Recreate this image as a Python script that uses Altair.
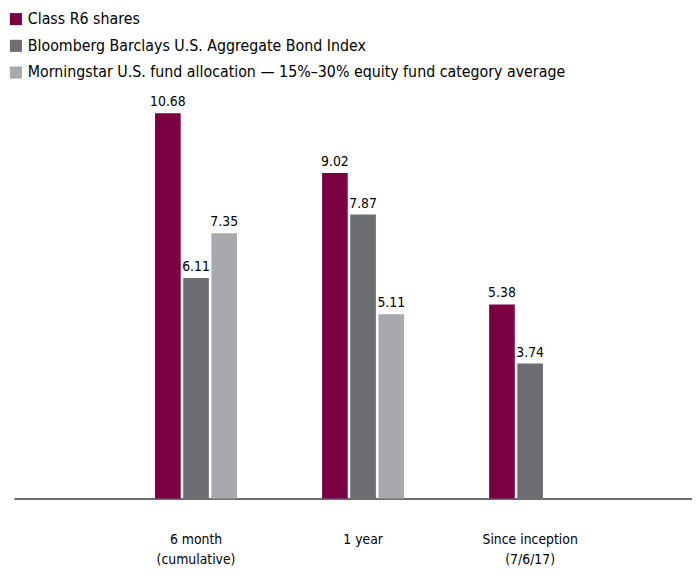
import altair as alt
import pandas as pd

categories = ["6 month|(cumulative)", "1 year", "Since inception|(7/6/17)"]
series = [
    "Class R6 shares",
    "Bloomberg Barclays U.S. Aggregate Bond Index",
    "Morningstar U.S. fund allocation — 15%–30% equity fund category average",
]
class_r6 = [10.68, 9.02, 5.38]
bloomberg = [6.11, 7.87, 3.74]
morningstar = [7.35, 5.11, None]
colors = ["#7b0041", "#6d6e71", "#a7a9ac"]

rows = []
for s, vals in zip(series, [class_r6, bloomberg, morningstar]):
    for c, v in zip(categories, vals):
        if v is not None:
            rows.append({"category": c, "series": s, "value": v})
df = pd.DataFrame(rows)

FONT = "'DejaVu Sans Condensed', 'DejaVu Sans', sans-serif"

x_enc = alt.X(
    "category:N",
    sort=categories,
    scale=alt.Scale(domain=categories, paddingInner=0.494, paddingOuter=0.7766, align=0.539),
    axis=alt.Axis(
        title=None,
        labelAngle=0,
        ticks=False,
        labelPadding=34,
        labelFontSize=14,
        labelFont=FONT,
        labelColor="#000000",
        labelLineHeight=21,
        labelExpr="split(datum.label, '|')",
        domainColor="#6d6e71",
        domainWidth=2,
        grid=False,
    ),
)
xoff = alt.XOffset(
    "series:N",
    sort=series,
    scale=alt.Scale(domain=series, paddingInner=0.09, paddingOuter=0.045),
)
y_enc = alt.Y(
    "value:Q",
    scale=alt.Scale(domain=[0, 13.34], nice=False, zero=True),
    axis=None,
)

bars = alt.Chart(df).mark_bar().encode(
    x=x_enc,
    xOffset=xoff,
    y=y_enc,
    color=alt.Color(
        "series:N",
        sort=series,
        scale=alt.Scale(domain=series, range=colors),
        legend=alt.Legend(
            title=None,
            orient="none",
            legendX=-6,
            legendY=-6,
            symbolType="square",
            symbolSize=150,
            symbolStrokeWidth=0,
            labelFontSize=16,
            labelFont=FONT,
            labelColor="#000000",
            labelLimit=700,
            rowPadding=11,
            labelOffset=4,
        ),
    ),
)

labels = alt.Chart(df).mark_text(
    baseline="bottom", dy=-4, fontSize=14, font=FONT, color="#000000"
).encode(
    x=alt.X("category:N", sort=categories),
    xOffset=alt.XOffset("series:N", sort=series),
    y=alt.Y("value:Q"),
    text=alt.Text("value:Q", format=".2f"),
)

chart = (
    alt.layer(bars, labels)
    .properties(
        width=686,
        height=487,
        padding={"left": 0, "top": 0, "right": 0, "bottom": 0},
        background="#ffffff",
    )
    .configure_view(strokeWidth=0, stroke="transparent")
)

chart.save("out.html", embed_options={"renderer": "svg", "actions": False})
